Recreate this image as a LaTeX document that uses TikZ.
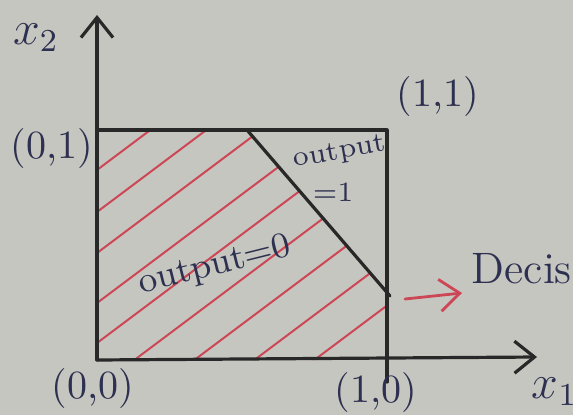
\documentclass[tikz,border=0pt]{standalone}
\usetikzlibrary{arrows.meta}
\definecolor{paper}{RGB}{198,198,192}
\definecolor{ink}{RGB}{45,48,80}
\definecolor{pen}{RGB}{40,40,40}
\definecolor{hatch}{RGB}{205,70,85}
\begin{document}
\begin{tikzpicture}[x=0.25pt,y=0.25pt,line cap=round,line join=round,
  >={Straight Barb[length=5pt,width=8pt]},
  every node/.style={inner sep=1pt,text=ink},
  axis/.style={line width=0.8pt,draw=pen},
  hatchline/.style={line width=0.5pt,draw=hatch}]
  \def\W{290}
  \def\H{230}
  \fill[paper] (-97,-55) rectangle (476,360);
  \useasboundingbox (-97,-55) rectangle (476,360);
  \coordinate (O) at (0,0);
  \coordinate (xtip) at (440,3);
  \coordinate (ytip) at (0,345);
  \coordinate (bt) at (150,\H);
  \coordinate (bb) at (293,64);
  % hatched region below the boundary
  \begin{scope}
    \clip (O) -- (0,\H) -- (bt) -- (290,68) -- (\W,0) -- cycle;
    \foreach \c in {190,148,107,57,17,-28,-73,-118,-163}
      \draw[hatchline] (0,\c) -- (\W,{\c+0.75*\W});
  \end{scope}
  \draw[axis,->] (O) -- (xtip);
  \draw[axis,->] (O) -- (ytip);
  \draw[axis] (0,\H) -- (\W,\H) -- (\W,-22);
  \draw[axis] (bt) -- (bb);
  \node (xtwo) at (-61,322) {\large$x_2$};
  \node (xone) [anchor=base west] at (430,-38) {\large$x_1$};
  \node (p01) at (-45,211) {(0,1)};
  \node (p11) at (341,263) {(1,1)};
  \node (p00) at (-4,-28) {(0,0)};
  \node (p10) at (279,-32) {(1,0)};
  \node (one) [rotate=10,font=\scriptsize] at (243,207) {output};
  \node (eqone) [font=\scriptsize] at (236,168) {=1};
  \node (zero) [rotate=14,font=\small] at (118,94) {output=0};
  \node (dec) [anchor=base west,font=\fontsize{11}{13}\selectfont] at (370,77) {Decis};
  \coordinate (arrs) at (308,61);
  \coordinate (arre) at (365,67);
  \draw[hatchline,line width=0.7pt,->] (arrs) -- (arre);
\end{tikzpicture}
\end{document}
